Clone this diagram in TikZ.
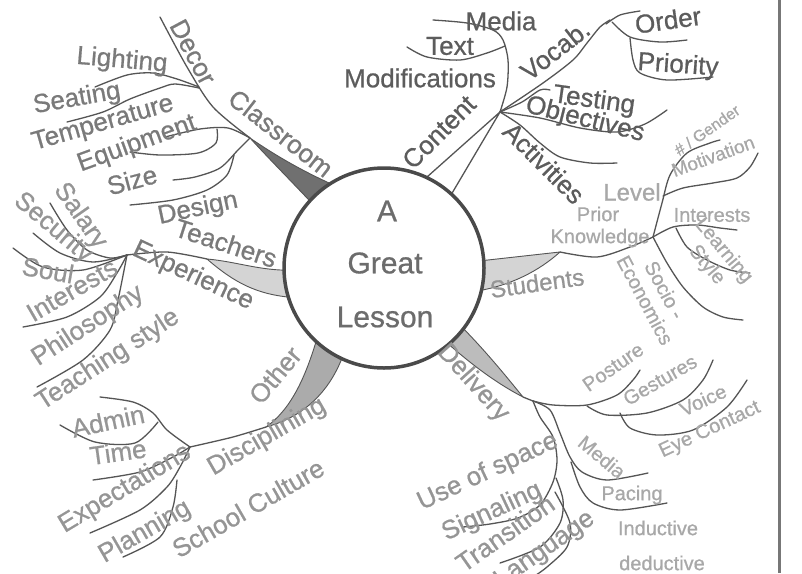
\documentclass[tikz,border=0pt]{standalone}
\usepackage{fontspec}
\setmainfont{Liberation Sans}[FakeBold=0.7]
\definecolor{txt}{HTML}{7A7A7A}
\definecolor{txtd}{HTML}{5C5C5C}
\definecolor{txtm}{HTML}{959595}
\definecolor{txtl}{HTML}{A8A8A8}
\definecolor{ln}{HTML}{555555}
\definecolor{circ}{HTML}{4A4A4A}
\definecolor{wdark}{HTML}{707070}
\definecolor{wmid}{HTML}{ABABAB}
\definecolor{wlight}{HTML}{D4D4D4}
\begin{document}
\begin{tikzpicture}[x=1pt,y=-1pt,
  big/.style={font=\fontsize{26}{28}\selectfont, text=txt, inner sep=0pt, align=center},
  dk/.style={big, text=txtd},
  mid/.style={big, text=txtm},
  sm/.style={font=\fontsize{20}{22}\selectfont, text=txtl, inner sep=0pt, align=center},
  ctr/.style={font=\fontsize{30}{32}\selectfont, text=txtd!90, inner sep=0pt},
  br/.style={draw=ln, line width=1.3pt, line cap=round},
  wedge/.style={draw=ln, line width=0.9pt, line join=round}]
\fill[white] (0,0) rectangle (802,573);
\useasboundingbox (0,0) rectangle (802,573);
% frame line
\coordinate (F1) at (779,0);
\coordinate (F2) at (779,573);
\draw[draw=ln!80, line width=3pt] (F1) -- (F2);
% junctions
\coordinate (J1) at (250,138);
\coordinate (J2) at (127,255);
\coordinate (J3) at (190,447);
\coordinate (J4) at (500,112);
\coordinate (J5) at (653,237);
\coordinate (J6) at (533,401);
\coordinate (TT) at (207,259);
\coordinate (OT) at (266,427);
\coordinate (ST) at (560,252);
\coordinate (DT) at (523,397);
% wedges
\filldraw[wedge, fill=wdark] (J1) .. controls (282,160) and (312,176) .. (345,190) -- (320,212) .. controls (300,190) and (270,160) .. (J1) -- cycle;
\filldraw[wedge, fill=wlight] (TT) .. controls (240,262) and (262,272) .. (300,270) -- (300,298) .. controls (262,296) and (238,286) .. (TT) -- cycle;
\filldraw[wedge, fill=wmid] (OT) .. controls (300,418) and (330,395) .. (345,350) -- (318,335) .. controls (305,380) and (290,410) .. (OT) -- cycle;
\filldraw[wedge, fill=wlight] (470,262) -- (ST) .. controls (540,270) and (510,287) .. (470,292) -- cycle;
\filldraw[wedge, fill=wmid!80] (455,320) .. controls (485,350) and (505,375) .. (DT) .. controls (490,380) and (460,355) .. (435,332) -- cycle;
\draw[br] (418,185) -- (J4) -- (448,200);
% classroom lines
\draw[br] plot[smooth] coordinates {(J1) (213,107) (187,67) (160,17)};
\draw[br] plot[smooth] coordinates {(199,87) (177,79) (153,73) (127,75) (95,87)};
\draw[br] plot[smooth] coordinates {(199,88) (175,84) (160,88) (130,99) (103,112) (67,122)};
\draw[br] plot[smooth] coordinates {(J1) (228,128) (200,129) (165,137)};
\draw[br] plot[smooth] coordinates {(217,129) (216,143) (198,153) (160,155) (130,152)};
\draw[br] plot[smooth] coordinates {(J1) (238,150) (220,168) (195,177) (173,180)};
\draw[br] plot[smooth] coordinates {(234,155) (227,175) (207,190) (173,200) (130,205)};
% teachers lines
\draw[br] plot[smooth] coordinates {(J2) (167,252) (TT)};
\draw[br] plot[smooth] coordinates {(50,203) (67,230) (87,250) (110,258) (J2)};
\draw[br] plot[smooth] coordinates {(33,233) (60,253) (93,262) (J2)};
\draw[br] plot[smooth] coordinates {(13,248) (43,267) (83,270) (J2)};
\draw[br] plot[smooth] coordinates {(23,327) (67,317) (100,297) (117,273) (J2)};
\draw[br] plot[smooth] coordinates {(37,387) (83,360) (110,330) (118,300) (J2)};
% other lines
\draw[br] plot[smooth] coordinates {(OT) (233,437) (J3)};
\draw[br] plot[smooth] coordinates {(100,397) (133,402) (153,413) (167,430) (J3)};
\draw[br] plot[smooth] coordinates {(60,425) (95,442) (135,443) (158,422)};
\draw[br] plot[smooth] coordinates {(93,480) (140,472) (173,457) (J3)};
\draw[br] plot[smooth] coordinates {(90,533) (140,510) (167,487) (180,467) (J3)};
\draw[br] plot[smooth] coordinates {(123,557) (160,537) (173,507) (177,480)};
% content lines
\draw[br] plot[smooth] coordinates {(J4) (543,83) (573,60) (587,43) (600,27) (610,20)};
\draw[br] plot[smooth] coordinates {(606,24) (620,15) (640,11)};
\draw[br] plot[smooth] coordinates {(612,22) (630,37) (660,42) (687,40)};
\draw[br] plot[smooth] coordinates {(630,38) (633,60) (640,73) (667,80) (713,77)};
\draw[br] plot[smooth] coordinates {(J4) (507,87) (508,60) (503,40) (493,30) (467,23) (433,20)};
\draw[br] plot[smooth] coordinates {(407,47) (427,57) (460,60) (487,53) (505,46)};
\draw[br] plot[smooth] coordinates {(J4) (522,102) (540,90) (550,90)};
\draw[br] plot[smooth] coordinates {(J4) (540,118) (580,128) (617,132) (645,124) (667,110)};
\draw[br] plot[smooth] coordinates {(J4) (520,125) (540,143) (560,157) (590,163) (617,163)};
% students lines
\draw[br] plot[smooth] coordinates {(ST) (597,257) (630,247) (J5)};
\draw[br] plot[smooth] coordinates {(J5) (662,203) (670,175) (687,153) (710,143) (720,140)};
\draw[br] plot[smooth] coordinates {(663,196) (683,188) (713,183) (737,178) (750,167) (758,153)};
\draw[br] plot[smooth] coordinates {(J5) (673,227) (697,225) (720,228) (737,230)};
\draw[br] plot[smooth] coordinates {(676,228) (687,247) (707,260) (730,270) (750,273)};
\draw[br] plot[smooth] coordinates {(J5) (667,263) (683,287) (703,307) (723,317) (743,320)};
% delivery lines
\draw[br] (DT) -- (J6);
\draw[br] plot[smooth] coordinates {(J6) (553,405) (587,405) (617,395) (633,380) (640,370)};
\draw[br] plot[smooth] coordinates {(587,406) (607,415) (647,413) (683,400) (703,380) (713,360)};
\draw[br] plot[smooth] coordinates {(620,413) (630,428) (657,435) (693,430) (727,407) (747,380)};
\draw[br] plot[smooth] coordinates {(J6) (550,410) (560,433) (570,457) (582,472) (607,480) (648,473)};
\draw[br] plot[smooth] coordinates {(571,462) (580,487) (593,503) (620,510) (667,503)};
\draw[br] plot[smooth] coordinates {(J6) (540,417) (553,437) (557,460) (553,482) (540,505) (518,518) (490,524) (463,527)};
\draw[br] plot[smooth] coordinates {(556,478) (563,500) (560,523) (540,547) (500,563)};
\draw[br] plot[smooth] coordinates {(555,492) (570,523) (567,547) (547,567) (533,577)};
% centre
\node[circle, draw=circ, line width=3.5pt, fill=white, minimum size=200pt, inner sep=0pt] (C) at (384,268) {};
\node[ctr] (cA) at (387,211) {A};
\node[ctr] (cG) at (385,263) {Great};
\node[ctr] (cL) at (385,317) {Lesson};
% classroom texts
\node[big, rotate=-62] (decor) at (193,52) {Decor};
\node[big, rotate=-38] (classroom) at (281,133) {Classroom};
\node[big, rotate=-5] (lighting) at (122,61) {Lighting};
\node[big, rotate=10] (seating) at (77,99) {Seating};
\node[big, rotate=16] (temperature) at (103,124) {Temperature};
\node[big, rotate=20] (equipment) at (137,144) {Equipment};
\node[big, rotate=15] (size) at (132,180) {Size};
\node[big, rotate=12] (design) at (198,209) {Design};
% teachers texts
\node[big, rotate=-18] (teachers) at (226,243) {Teachers};
\node[big, rotate=-25] (experience) at (193,276) {Experience};
\node[mid, rotate=-55] (salary) at (80,216) {Salary};
\node[mid, rotate=-40] (security) at (53,228) {Security};
\node[mid, rotate=-10] (soul) at (48,270) {Soul};
\node[mid, rotate=30] (interestsT) at (72,290) {Interests};
\node[mid, rotate=33] (philosophy) at (88,326) {Philosophy};
\node[mid, rotate=33] (teaching) at (108,360) {Teaching style};
% other texts
\node[mid, rotate=50] (other) at (275,375) {Other};
\node[mid, rotate=30] (disciplining) at (267,437) {Disciplining};
\node[mid, rotate=30] (culture) at (248,508) {School Culture};
\node[mid, rotate=12] (admin) at (108,421) {Admin};
\node[mid, rotate=8] (time) at (118,452) {Time};
\node[mid, rotate=31] (expect) at (125,489) {Expectations};
\node[mid, rotate=30] (planning) at (145,532) {Planning};
% content texts
\node[dk, rotate=45] (content) at (439,132) {Content};
\node[dk] (mediaC) at (501,21) {Media};
\node[dk] (text) at (450,46) {Text};
\node[dk] (modif) at (420,78) {Modifications};
\node[dk, rotate=38] (vocab) at (555,50) {Vocab.};
\node[dk, rotate=8] (order) at (668,20) {Order};
\node[dk, rotate=-4] (priority) at (678,66) {Priority};
\node[dk, rotate=-8] (testing) at (594,101) {Testing};
\node[dk, rotate=-14] (objectives) at (585,120) {Objectives};
\node[dk, rotate=-45] (activities) at (544,163) {Activities};
% students texts
\node[big, font=\fontsize{24}{26}\selectfont, text=txtm, rotate=8] (students) at (537,283) {Students};
\node[sm, font=\fontsize{16}{18}\selectfont, rotate=35] (gender) at (707,130) {\# / Gender};
\node[sm, font=\fontsize{19}{21}\selectfont, rotate=20] (motivation) at (713,156) {Motivation};
\node[sm, font=\fontsize{24}{26}\selectfont] (level) at (632,192) {Level};
\node[sm] (prior) at (598,214) {Prior};
\node[sm] (knowledge) at (600,238) {Knowledge};
\node[sm] (interestsS) at (712,215) {Interests};
\node[sm, rotate=-50] (learning) at (715,258) {Learning\\Style};
\node[sm, rotate=-62] (socio) at (655,295) {Socio -\\Economics};
% delivery texts
\node[mid, rotate=-48] (delivery) at (473,383) {Delivery};
\node[sm, rotate=35] (posture) at (613,367) {Posture};
\node[sm, rotate=30] (gestures) at (660,380) {Gestures};
\node[sm, rotate=25] (voice) at (703,400) {Voice};
\node[sm, rotate=25] (eye) at (710,430) {Eye Contact};
\node[sm, rotate=-40] (mediaD) at (602,457) {Media};
\node[sm] (pacing) at (632,495) {Pacing};
\node[sm] (inductive) at (658,528) {Inductive};
\node[sm] (deductive) at (662,563) {deductive};
\node[mid, rotate=25] (space) at (488,472) {Use of space};
\node[mid, rotate=25] (signaling) at (492,512) {Signaling};
\node[mid, rotate=35] (transition) at (505,533) {Transition};
\node[mid, rotate=35] (language) at (545,550) {Language};
\end{tikzpicture}
\end{document}
